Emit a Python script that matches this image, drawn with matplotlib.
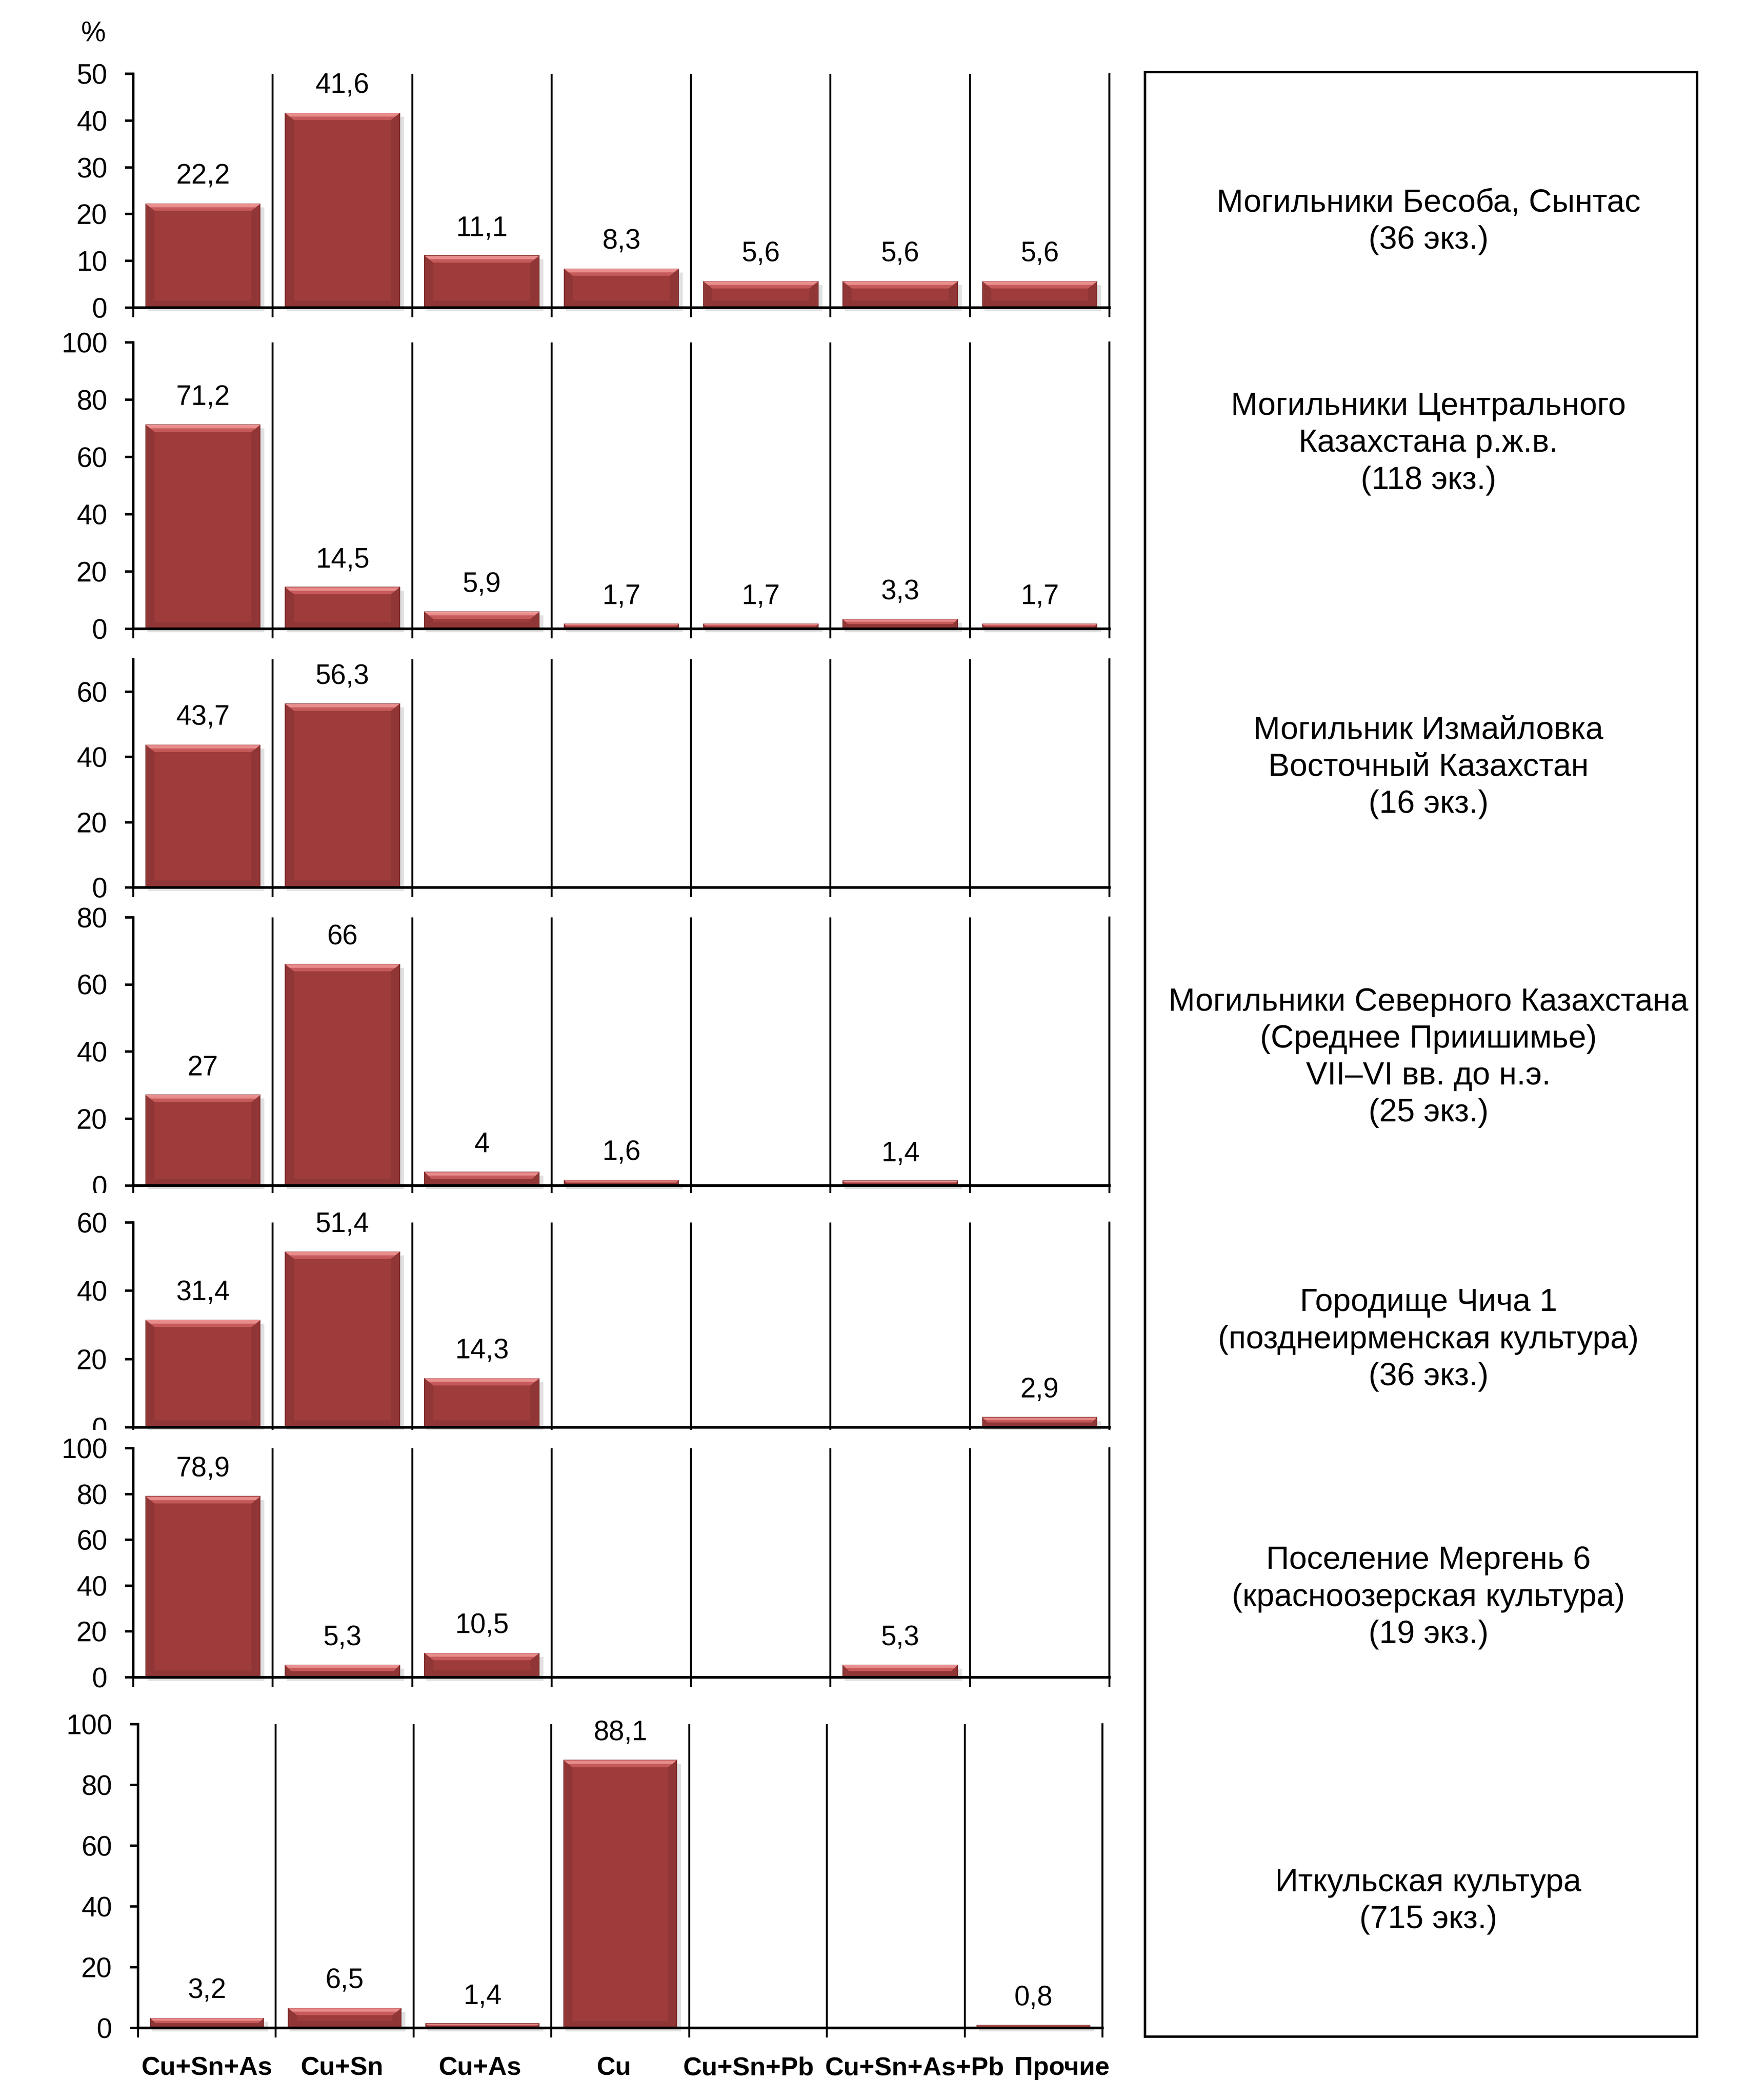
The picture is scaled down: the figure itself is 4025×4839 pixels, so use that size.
import numpy as np
import matplotlib.pyplot as plt
from matplotlib.patches import Polygon, Rectangle
from matplotlib.transforms import ScaledTranslation

plt.rcParams['font.family'] = ['Liberation Sans', 'DejaVu Sans']

W, H = 4025, 4839

categories = ["Cu+Sn+As", "Cu+Sn", "Cu+As", "Cu", "Cu+Sn+Pb", "Cu+Sn+As+Pb", "Прочие"]

besoba = [22.2, 41.6, 11.1, 8.3, 5.6, 5.6, 5.6]
central_kz = [71.2, 14.5, 5.9, 1.7, 1.7, 3.3, 1.7]
izmaylovka = [43.7, 56.3, None, None, None, None, None]
north_kz = [27, 66, 4, 1.6, None, 1.4, None]
chicha = [31.4, 51.4, 14.3, None, None, None, 2.9]
mergen = [78.9, 5.3, 10.5, None, None, 5.3, None]
itkul = [3.2, 6.5, 1.4, 88.1, None, None, 0.8]

titles = [
    "Могильники Бесоба, Сынтас\n(36 экз.)",
    "Могильники Центрального\nКазахстана р.ж.в.\n(118 экз.)",
    "Могильник Измайловка\nВосточный Казахстан\n(16 экз.)",
    "Могильники Северного Казахстана\n(Среднее Приишимье)\nVII–VI вв. до н.э.\n(25 экз.)",
    "Городище Чича 1\n(позднеирменская культура)\n(36 экз.)",
    "Поселение Мергень 6\n(красноозерская культура)\n(19 экз.)",
    "Иткульская культура\n(715 экз.)",
]

panels = [besoba, central_kz, izmaylovka, north_kz, chicha, mergen, itkul]
y_max = [50, 100, 70, 80, 60, 100, 100]
y_step = [10, 20, 20, 20, 20, 20, 20]

# plot areas in pixels: left, right, top, bottom
areas = [(307, 2556, 170, 709), (307, 2556, 789, 1449), (307, 2556, 1519, 2045),
         (307, 2556, 2114, 2732), (307, 2556, 2817, 3289), (307, 2556, 3337, 3865),
         (318, 2540, 3973, 4673)]
# top of the (white) chart area that hides the panel above, where it does
chart_top = [None, None, None, None, 2749, 3295, None]
title_y = [511, 1022, 1768, 2437, 3087, 3681, 4381]
# horizontal nudge of the category labels (pixels), as Excel spreads them
label_shift = [0, -6, -6, -15, -22, 43, 65]

BAR = '#9e3b3b'
LIGHT1 = '#e88c8c'
LIGHT2 = '#c65a5a'
DARK = '#863232'
bw = 0.82


def fmt(v):
    return f"{v:g}".replace('.', ',')


def bevel_bar(ax, i, v, ux, uy):
    x0, x1 = i - bw / 2, i + bw / 2
    hpx = v / uy
    by = min(16, hpx / 2) * uy
    bx = min(20, hpx / 2) * ux
    # soft shadow
    ax.add_patch(Rectangle((x0 + 4 * ux, -8 * uy), bw + 6 * ux, v, color='#bdbdbd',
                           alpha=0.45, lw=0, zorder=2, clip_on=False))
    ax.bar(i, v, width=bw, color=BAR, edgecolor='#7a2c2c', linewidth=1.5, zorder=3)
    sides = [
        [(x0, 0), (x1, 0), (x1 - bx, by), (x0 + bx, by)],
        [(x0, 0), (x0, v), (x0 + bx, v - by), (x0 + bx, by)],
        [(x1, 0), (x1, v), (x1 - bx, v - by), (x1 - bx, by)],
    ]
    for pts in sides:
        ax.add_patch(Polygon(pts, closed=True, color=DARK, lw=0, zorder=4, alpha=0.55))
    ax.add_patch(Polygon([(x0, v), (x1, v), (x1 - bx, v - by), (x0 + bx, v - by)],
                         closed=True, color=LIGHT2, lw=0, zorder=4))
    ax.add_patch(Polygon([(x0, v), (x1, v), (x1 - bx / 2, v - by / 2), (x0 + bx / 2, v - by / 2)],
                         closed=True, color=LIGHT1, lw=0, zorder=4))


fig = plt.figure(figsize=(W / 100, H / 100), dpi=100)

for k, vals in enumerate(panels):
    l, r, t, b = areas[k]
    if chart_top[k] is not None:
        bg = fig.add_axes([0, 1 - (b + 40) / H, 2620 / W, (b + 40 - chart_top[k]) / H])
        bg.set_facecolor('white')
        bg.set_xticks([])
        bg.set_yticks([])
        for s in bg.spines.values():
            s.set_visible(False)
    ax = fig.add_axes([l / W, 1 - b / H, (r - l) / W, (b - t) / H])
    ax.set_xlim(-0.5, 6.5)
    ax.set_ylim(0, y_max[k])
    ux = 7 / (r - l)
    uy = y_max[k] / (b - t)

    for i, v in enumerate(vals):
        if v is None:
            continue
        bevel_bar(ax, i, v, ux, uy)
        ax.annotate(fmt(v), (i, v), xytext=(0, 33), textcoords='offset points',
                    ha='center', va='baseline', fontsize=46, zorder=6)

    ax.set_yticks(np.arange(0, y_max[k] + 1, y_step[k]))
    ax.tick_params(axis='y', length=14, width=4, pad=29, labelsize=46, direction='out')
    ax.set_xticks(np.arange(-0.5, 7, 1), minor=True)
    ax.set_xticks(range(7))
    ax.tick_params(axis='x', which='minor', length=16, width=3.2, direction='out')
    ax.tick_params(axis='x', which='major', length=0, pad=47)
    if k == len(panels) - 1:
        ax.set_xticklabels(categories, fontsize=43, fontweight='bold')
        for lab, dx in zip(ax.get_xticklabels(), label_shift):
            lab.set_transform(lab.get_transform() + ScaledTranslation(dx / 100, 0, fig.dpi_scale_trans))
    else:
        ax.set_xticklabels([])
    ax.grid(axis='x', which='minor', color='black', lw=3.2, zorder=1)
    ax.set_axisbelow(True)
    ax.spines['top'].set_visible(False)
    ax.spines['right'].set_linewidth(3.2)
    ax.spines['left'].set_linewidth(4)
    ax.spines['bottom'].set_linewidth(4.5)
    ax.spines['bottom'].set_zorder(5)

    fig.text(3291 / W, 1 - title_y[k] / H, titles[k], ha='center', va='center',
             fontsize=53, linespacing=1.3)

fig.text(215 / W, 1 - 79 / H, '%', ha='center', va='center', fontsize=46)

fig.patches.append(Rectangle((2638 / W, 1 - 4693 / H), (3910 - 2638) / W, (4693 - 166) / H,
                             transform=fig.transFigure, fill=False, edgecolor='black',
                             lw=4, zorder=10))

fig.savefig('out.png', dpi=100, facecolor='white')
